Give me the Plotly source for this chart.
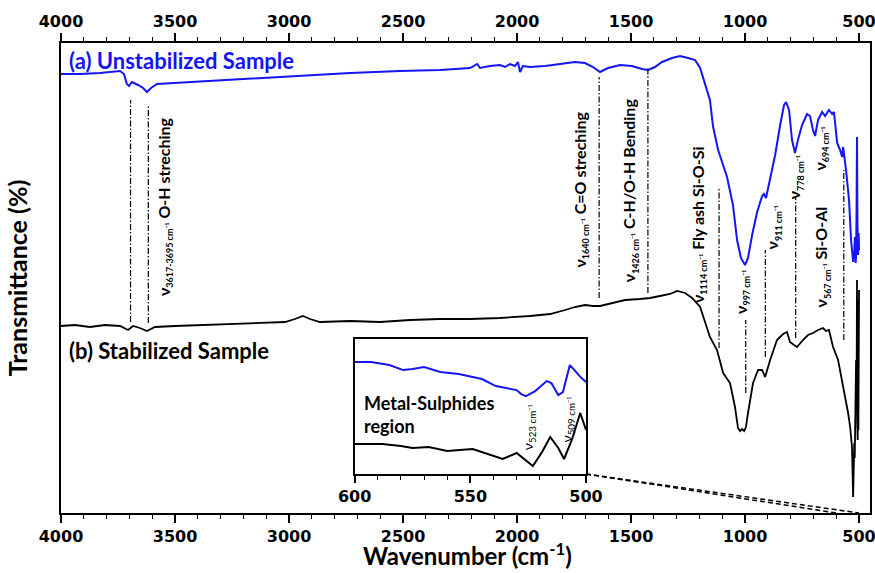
import plotly.graph_objects as go

# ---------------- data ----------------
# main spectra: wavenumber (cm-1) and transmittance (arbitrary offset units)
wn_a = [4000, 3917, 3829, 3763, 3741, 3724, 3711, 3702, 3689, 3662, 3640, 3623, 3605, 3579,
        3500, 3390, 3259, 3127, 2952, 2732, 2513, 2338, 2206, 2175, 2162, 2118, 2075, 2053,
        2031, 2009, 1996, 1987, 1974, 1943, 1877, 1811, 1746, 1702, 1667, 1636, 1601, 1548,
        1496, 1452, 1425, 1395, 1364, 1320, 1285, 1250, 1219, 1197, 1175, 1154, 1140, 1118,
        1079, 1053, 1035, 1018, 1000, 987, 969, 947, 925, 917, 908, 890, 868, 846, 829, 820,
        807, 794, 781, 768, 750, 728, 715, 702, 693, 680, 662, 649, 632, 618, 610, 596, 583,
        574, 570, 557, 544, 535, 526, 521, 518, 515, 513, 511, 509, 507, 504, 502, 500]
tr_a = [439, 439, 440, 441, 442, 439, 429, 427, 431, 428, 425, 421, 425, 429,
        430, 431, 433, 435, 437, 440, 442, 443, 445, 449, 445, 447, 448, 446,
        449, 447, 451, 441, 447, 446, 447, 449, 451, 450, 446, 441, 445, 448,
        447, 444, 443, 446, 451, 455, 457, 455, 453, 445, 428, 413, 386, 363,
        336, 308, 273, 255, 248, 255, 278, 301, 317, 319, 315, 333, 358, 388, 408, 411,
        403, 373, 360, 373, 388, 399, 397, 383, 377, 393, 401, 397, 403, 399, 401, 370, 363,
        356, 366, 343, 313, 273, 251, 262, 276, 250, 258, 300, 376, 290, 258, 280, 263]

wn_b = [4000, 3939, 3873, 3807, 3741, 3706, 3684, 3654, 3623, 3588, 3500, 3390, 3259, 3127,
        3018, 2974, 2939, 2908, 2864, 2732, 2601, 2469, 2338, 2206, 2075, 1943, 1855, 1789,
        1746, 1702, 1667, 1636, 1583, 1526, 1461, 1417, 1373, 1329, 1298, 1263, 1232, 1197,
        1154, 1123, 1096, 1066, 1044, 1031, 1022, 1013, 1004, 996, 987, 965, 943, 925, 912,
        890, 860, 833, 816, 803, 785, 772, 746, 724, 702, 680, 658, 645, 632, 614, 592, 575,
        561, 548, 539, 531, 526, 523, 521, 519, 517, 515, 513, 511, 509, 508, 507, 506, 505,
        504, 503, 502, 501, 500]
tr_b = [187, 188, 186, 188, 187, 183, 187, 185, 182, 186, 187, 188, 189, 190,
        191, 194, 197, 194, 191, 192, 191, 193, 194, 194, 195, 197, 199, 203,
        206, 208, 207, 207, 210, 213, 214, 215, 217, 219, 222, 220, 215, 206,
        176, 163, 140, 130, 106, 85, 82, 84, 82, 86, 100, 130, 143, 143, 136,
        153, 173, 179, 181, 171, 168, 166, 173, 178, 180, 183, 185, 182, 183, 166, 153, 133,
        113, 100, 86, 66, 16, 40, 70, 55, 95, 80, 153, 110, 233, 90, 200, 73, 160,
        213, 83, 190, 100, 223]

# inset (Metal-Sulphides region, 600-500 cm-1)
wn_ia = [600, 593, 585, 579, 575, 570, 563, 555, 549, 545, 539, 535, 530, 528, 526, 522, 517,
         515, 512, 510, 507, 505, 502, 500]
tr_ia = [112, 112, 109, 104, 105, 107, 102, 100, 97, 95, 88, 86, 84, 80, 78, 83, 93,
         91, 79, 82, 109, 104, 96, 92]
wn_ib = [600, 588, 580, 575, 568, 560, 549, 542, 536, 530, 526, 523, 519, 515.5, 512, 509.5,
         506, 502.5, 500]
tr_ib = [30, 30, 28, 26, 27, 23, 25, 20, 15, 21, 14, 8, 22, 37, 26, 15, 35, 61, 44]

x_ticks = [4000, 3500, 3000, 2500, 2000, 1500, 1000, 500]
inset_ticks = [600, 550, 500]

# band assignments: wavenumber of guide line, line extent (bottom, top)
guide_wn = [3695, 3617, 1640, 1426, 1114, 997, 911, 778, 567]
guide_lo = [191, 190, 215, 220, 165, 120, 156, 175, 173]
guide_hi = [413, 407, 436, 445, 326, 193, 263, 316, 343]

SUB = "<sub><span style='font-size:9px'>{}</span></sub>"
labels = [
    ("ν" + SUB.format("3617-3695 cm⁻¹") + " O-H streching", 3548, 306),
    ("ν" + SUB.format("1640 cm⁻¹") + " C=O streching", 1726, 323),
    ("ν" + SUB.format("1426 cm⁻¹") + " C-H/O-H Bending", 1508, 323),
    ("ν" + SUB.format("1114 cm⁻¹") + " Fly ash Si-O-Si", 1206, 288),
    ("ν" + SUB.format("997 cm⁻¹"), 1018, 221),
    ("ν" + SUB.format("911 cm⁻¹"), 880, 286),
    ("ν" + SUB.format("778 cm⁻¹"), 784, 336),
    ("ν" + SUB.format("694 cm⁻¹"), 673, 364),
    ("ν" + SUB.format("567 cm⁻¹") + " Si-O-Al", 665, 256),
]
inset_labels = [("ν<sub>523 cm⁻¹</sub>", 525, 47), ("ν<sub>509 cm⁻¹</sub>", 508, 54)]

# ---------------- figure ----------------
XR = [4000, 452]
YR = [0, 470]
IN_XD = [0.363, 0.649]
IN_YD = [0.083, 0.370]
BLUE = "#1414f5"
TXT = "Lato"
TICKF = dict(family="DejaVu Sans", size=16, color="black", weight="bold")

fig = go.Figure()
fig.add_trace(go.Scatter(x=wn_a, y=tr_a, mode="lines", line=dict(color=BLUE, width=2),
                         showlegend=False, hoverinfo="skip"))
fig.add_trace(go.Scatter(x=wn_b, y=tr_b, mode="lines", line=dict(color="black", width=1.8),
                         showlegend=False, hoverinfo="skip"))
fig.add_trace(go.Scatter(x=wn_ia, y=tr_ia, mode="lines", line=dict(color=BLUE, width=2),
                         xaxis="x2", yaxis="y2", showlegend=False, hoverinfo="skip"))
fig.add_trace(go.Scatter(x=wn_ib, y=tr_ib, mode="lines", line=dict(color="black", width=2),
                         xaxis="x2", yaxis="y2", showlegend=False, hoverinfo="skip"))
# top axis carrier
fig.add_trace(go.Scatter(x=[wn_b[0]], y=[tr_b[0]], mode="lines", xaxis="x3", yaxis="y",
                         showlegend=False, hoverinfo="skip", line=dict(width=0)))

axis_common = dict(range=XR, tickvals=x_ticks, ticks="outside", ticklen=8, tickwidth=1.5,
                   tickcolor="black", showline=True, linecolor="black", linewidth=2,
                   showgrid=False, zeroline=False, tickfont=TICKF, automargin=False,
                   ticklabeloverflow="allow",
                   minor=dict(dtick=100, ticks="outside", ticklen=4, tickwidth=1.2,
                              tickcolor="black", showgrid=False))

fig.update_layout(
    width=875, height=573,
    margin=dict(l=61, r=5, t=43, b=60),
    paper_bgcolor="white", plot_bgcolor="white",
    xaxis=dict(**axis_common, mirror=True),
    xaxis3=dict(**axis_common, overlaying="x", side="top", anchor="y"),
    yaxis=dict(range=YR, showticklabels=False, ticks="", showline=True, mirror=True,
               linecolor="black", linewidth=2, showgrid=False, zeroline=False,
               automargin=False,
               title=dict(text="Transmittance (%)", standoff=24,
                          font=dict(family=TXT, size=25, color="black", weight="bold"))),
    xaxis2=dict(domain=IN_XD, anchor="y2", range=[600, 500], tickvals=inset_ticks,
                ticks="outside", ticklen=7, tickwidth=1.5, tickcolor="black",
                showline=True, mirror=True, linecolor="black", linewidth=1.8,
                showgrid=False, zeroline=False, tickfont=TICKF, automargin=False,
                ticklabeloverflow="allow",
                minor=dict(dtick=10, ticks="outside", ticklen=4, tickwidth=1.2,
                           tickcolor="black", showgrid=False)),
    yaxis2=dict(domain=IN_YD, anchor="x2", range=[0, 135], showticklabels=False, ticks="",
                showline=True, mirror=True, linecolor="black", linewidth=1.8,
                showgrid=False, zeroline=False, automargin=False),
)

# x-axis title placed as an annotation below the tick labels
fig.add_annotation(text="Wavenumber (cm<sup>-1</sup>)", x=0.502, y=-0.1245, xref="paper",
                   yref="paper", xanchor="center", yanchor="bottom", showarrow=False,
                   font=dict(family=TXT, size=24, color="black", weight="bold"))

# guide lines
for w, lo, hi in zip(guide_wn, guide_lo, guide_hi):
    fig.add_shape(type="line", x0=w, x1=w, y0=lo, y1=hi, xref="x", yref="y",
                  line=dict(color="black", width=1.2, dash="6px,2px,1.5px,2px"))

# connector lines from inset corner to 600 and 500 on the main axis
corner_x = XR[0] + IN_XD[1] * (XR[1] - XR[0])
corner_y = YR[0] + IN_YD[0] * (YR[1] - YR[0])
for w in (inset_ticks[0], inset_ticks[-1]):
    fig.add_shape(type="line", x0=corner_x, y0=corner_y, x1=w, y1=YR[0], xref="x", yref="y",
                  line=dict(color="black", width=1.5, dash="5px,3px"))

for txt, x, y in labels:
    fig.add_annotation(text=txt, x=x, y=y, xref="x", yref="y", showarrow=False, textangle=-90,
                       font=dict(family=TXT, size=16, color="black", weight="bold"))
for txt, x, y in inset_labels:
    fig.add_annotation(text=txt, x=x, y=y, xref="x2", yref="y2", showarrow=False, textangle=-90,
                       font=dict(family=TXT, size=14, color="black"))

fig.add_annotation(text="(a) Unstabilized Sample", x=3975, y=453, xref="x", yref="y",
                   xanchor="left", showarrow=False,
                   font=dict(family=TXT, size=22, color=BLUE, weight="bold"))
fig.add_annotation(text="(b) Stabilized Sample", x=3975, y=163, xref="x", yref="y",
                   xanchor="left", showarrow=False,
                   font=dict(family=TXT, size=22, color="black", weight="bold"))
fig.add_annotation(text="Metal-Sulphides<br>region", x=597, y=60, xref="x2", yref="y2",
                   xanchor="left", align="left", showarrow=False,
                   font=dict(family=TXT, size=18, color="black", weight="bold"))

fig.write_html("out.html", config={"displayModeBar": False},
               post_script="document.body.style.margin='0px';")
